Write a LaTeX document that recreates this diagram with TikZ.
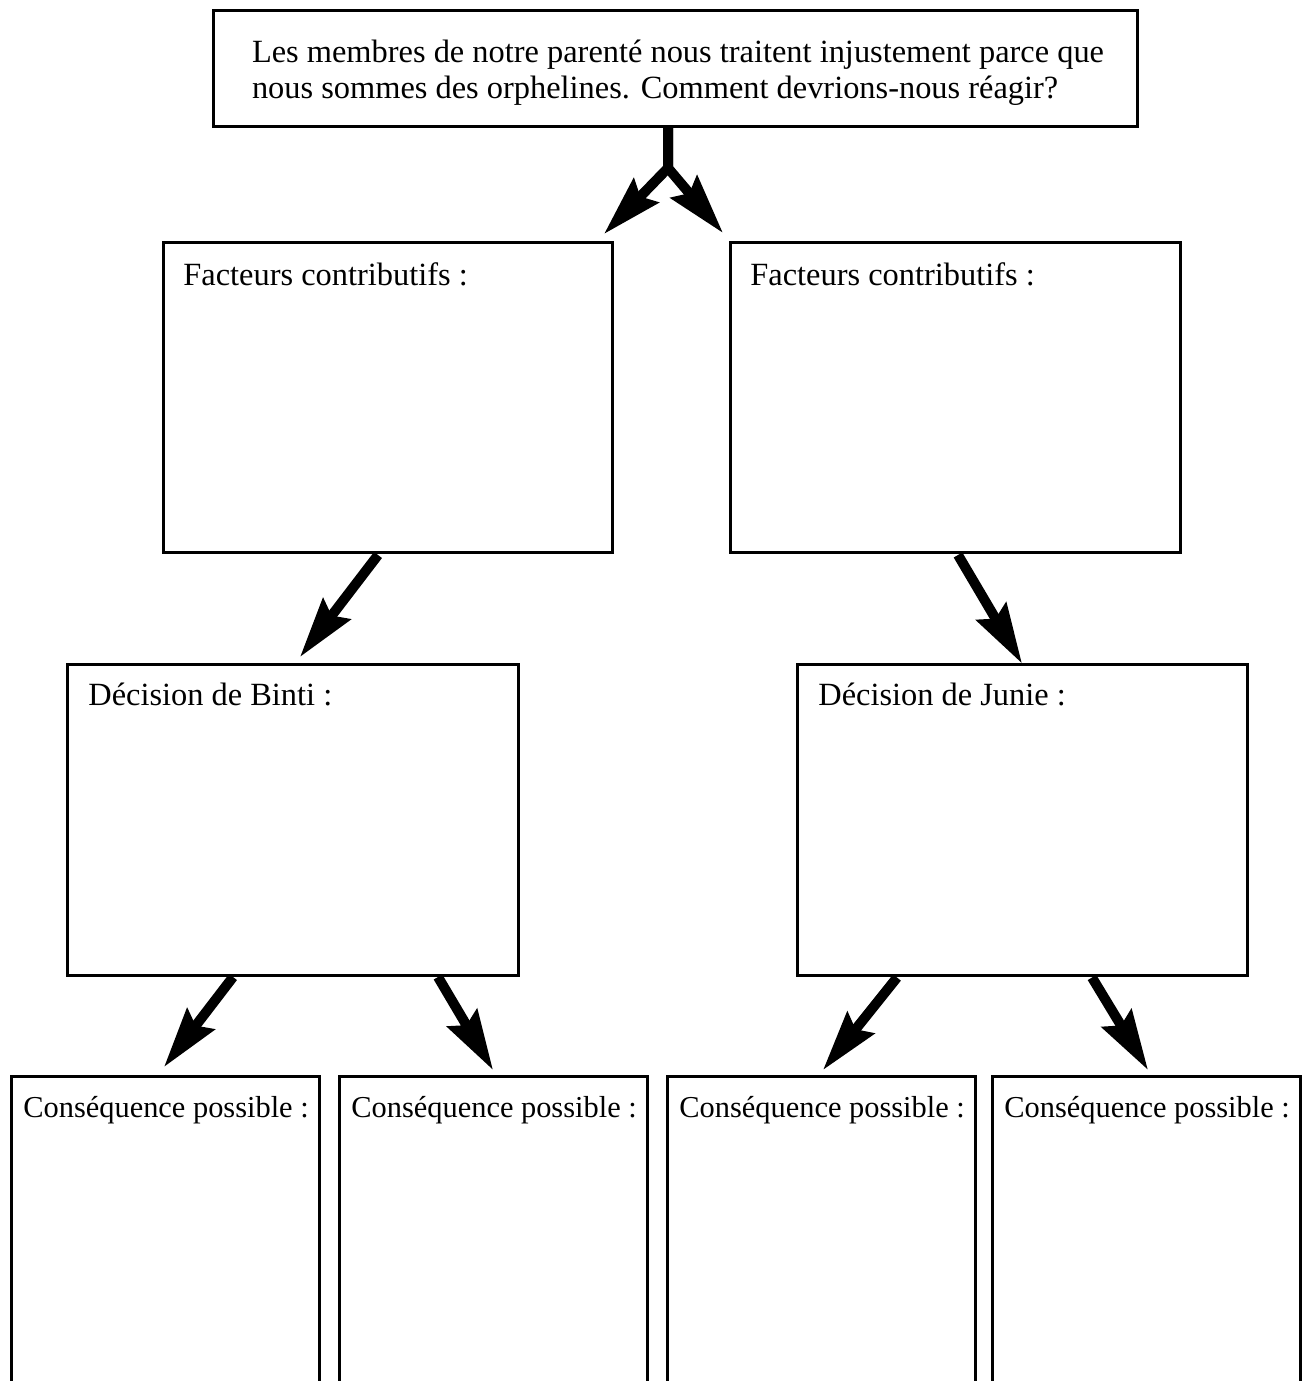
\documentclass[tikz,border=0pt]{standalone}
\usepackage{fontspec}
\setmainfont{Liberation Serif}
\usetikzlibrary{arrows.meta}

\begin{document}
\begin{tikzpicture}[x=0.5pt,y=-0.5pt,
    box/.style={draw, line width=1.5pt, outer sep=0pt, inner sep=0pt},
    lbl/.style={anchor=base west, inner sep=0pt},
    arr/.style={line width=5pt, line join=miter,
                -{Stealth[length=30pt, width=17pt, inset=4pt]}}]
  \useasboundingbox (0,0) rectangle (1304,1381);
  \fontsize{16.2}{18}\selectfont

  \node[box, minimum width=462pt, minimum height=58pt,
        label={[align=left, anchor=center, inner sep=0pt, xshift=1.5pt, yshift=-2.5pt]center:%
          Les membres de notre parent\'e nous traitent injustement parce que\\
          nous sommes des orphelines. Comment devrions-nous r\'eagir?}]
      (q) at (675,68) {};

  \node[box, minimum width=224.5pt, minimum height=155pt,
        label={[lbl, xshift=10pt, yshift=-21.5pt]north west:Facteurs contributifs :}]
      (fl) at (387.5,397) {};
  \node[box, minimum width=225pt, minimum height=155pt,
        label={[lbl, xshift=10pt, yshift=-21.5pt]north west:Facteurs contributifs :}]
      (fr) at (955,397) {};

  \node[box, minimum width=225.5pt, minimum height=155.5pt,
        label={[lbl, xshift=10.5pt, yshift=-20.5pt]north west:D\'ecision de Binti :}]
      (bl) at (292.5,819.5) {};
  \node[box, minimum width=225pt, minimum height=155.5pt,
        label={[lbl, xshift=10.5pt, yshift=-20.5pt]north west:D\'ecision de Junie :}]
      (br) at (1022,820) {};

  % open at the bottom: the boxes run off the page
  \foreach \i/\cx in {1/165, 2/493, 3/821, 4/1146}
    \node[box, minimum width=154pt, minimum height=180pt,
          label={[lbl, font=\fontsize{15.2}{18}\selectfont, xshift=6pt, yshift=-20.5pt]north west:Cons\'equence possible :}]
        (c\i) at (\cx,1256) {};

  \coordinate (fork) at (668,168);
  \draw[arr] ([xshift=-3.5pt]q.south) -- (fork) -- ([xshift=-4pt,yshift=4pt]fl.north east);
  \draw[arr] ([xshift=-3.5pt]q.south) -- (fork) -- ([xshift=-3.5pt,yshift=4.5pt]fr.north west);

  \draw[arr] ([xshift=-4.75pt,yshift=-1.5pt]fl.south) -- ([xshift=3.75pt,yshift=3.5pt]bl.north);
  \draw[arr] ([xshift=1.5pt,yshift=-1.5pt]fr.south) -- ([yshift=0.5pt]br.north);

  \draw[arr] ([xshift=-29.75pt,yshift=-1pt]bl.south) -- ([xshift=-0.5pt,yshift=4.5pt]c1.north);
  \draw[arr] ([xshift=72.75pt,yshift=-1pt]bl.south) -- ([yshift=3pt]c2.north);
  \draw[arr] ([xshift=-62.5pt,yshift=-1pt]br.south) -- ([xshift=1pt,yshift=3pt]c3.north);
  \draw[arr] ([xshift=35pt,yshift=-1pt]br.south) -- ([xshift=1pt,yshift=3pt]c4.north);
\end{tikzpicture}
\end{document}
